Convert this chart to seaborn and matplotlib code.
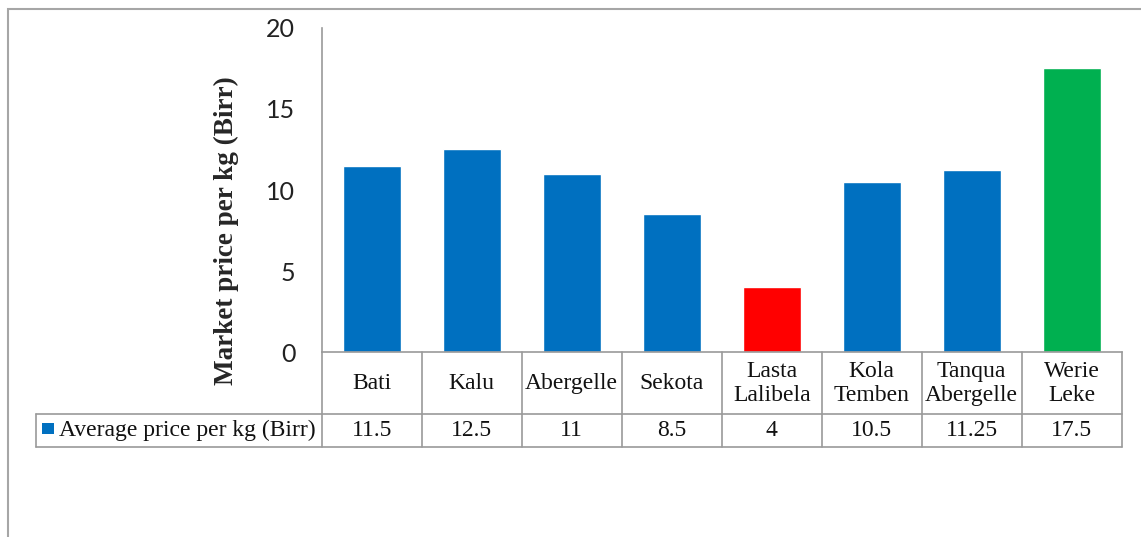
import matplotlib
matplotlib.use("Agg")
import matplotlib.pyplot as plt
from matplotlib.patches import Rectangle
import seaborn as sns

sites = ["Bati", "Kalu", "Abergelle", "Sekota", "Lasta\nLalibela",
         "Kola\nTemben", "Tanqua\nAbergelle", "Werie\nLeke"]
prices = [11.5, 12.5, 11, 8.5, 4, 10.5, 11.25, 17.5]
bar_colors = ["#0070C0", "#0070C0", "#0070C0", "#0070C0", "#FF0000",
              "#0070C0", "#0070C0", "#00B050"]
series_name = "Average price per kg (Birr)"
y_ticks = [0, 5, 10, 15, 20]

sns.set_style("white")
plt.rcParams["font.family"] = ["Liberation Serif", "DejaVu Serif"]

W, H = 1141, 537
fig = plt.figure(figsize=(W / 100, H / 100), dpi=100)
ax_left, ax_right, ax_top, ax_bottom = 321.7, 1121.7, 27.7, 352.3
ax = fig.add_axes([ax_left / W, 1 - ax_bottom / H,
                   (ax_right - ax_left) / W, (ax_bottom - ax_top) / H])

sns.barplot(x=sites, y=prices, hue=sites, palette=bar_colors, width=0.58,
            saturation=1, legend=False, ax=ax)

grey = "#9A9A9A"
ax.set_xlim(-0.5, len(sites) - 0.5)
ax.set_ylim(0, 20)
ax.set_yticks(y_ticks)
ax.set_yticklabels([str(t) for t in y_ticks], fontfamily="Lato", fontsize=18)
ax.tick_params(axis="y", length=0, pad=19, colors="#222222")
ax.set_xticks([])
for s in ["top", "right"]:
    ax.spines[s].set_visible(False)
for s in ["left", "bottom"]:
    ax.spines[s].set_color(grey)
    ax.spines[s].set_linewidth(1.2)

ax.set_xlabel("")
ax.set_ylabel("Market price per kg (Birr)", fontsize=19.5, fontweight="bold")
ax.yaxis.label.set_verticalalignment("center")
ax.yaxis.set_label_coords((226 - ax_left) / (ax_right - ax_left),
                          (ax_bottom - 231) / (ax_bottom - ax_top))

# data table below the plot
trans = ax.get_xaxis_transform()
ph = ax_bottom - ax_top
row1 = (ax_bottom - 414) / ph
row2 = (ax_bottom - 447) / ph
leg_x = (35.7 - ax_left) / 100 - 0.5
n = len(sites)
line_kw = dict(color=grey, lw=1.2, transform=trans, clip_on=False)
ax.plot([leg_x, n - 0.5], [row1, row1], **line_kw)
ax.plot([leg_x, n - 0.5], [row2, row2], **line_kw)
ax.plot([leg_x, leg_x], [row1, row2], **line_kw)
for i in range(n + 1):
    ax.plot([i - 0.5, i - 0.5], [0, row2], **line_kw)

for i, (site, val) in enumerate(zip(sites, prices)):
    ax.text(i, row1 / 2, site, ha="center", va="center", fontsize=17,
            linespacing=1.2, transform=trans, color="#111111")
    ax.text(i, (row1 + row2) / 2, f"{val:g}", ha="center", va="center",
            fontsize=17, transform=trans, color="#111111")

ax.add_patch(Rectangle(((42 - ax_left) / 100 - 0.5, (ax_bottom - 434) / ph),
                       0.12, 11 / ph, transform=trans, clip_on=False,
                       color=bar_colors[0], lw=0))
ax.text((59 - ax_left) / 100 - 0.5, (row1 + row2) / 2, series_name,
        ha="left", va="center", fontsize=17, transform=trans, color="#111111")

# chart area border (left and top edges visible)
fig.patches.append(Rectangle((8 / W, -0.1), 1.2, 1.1 - 9 / H,
                             transform=fig.transFigure, fill=False,
                             edgecolor="#A6A6A6", lw=1.5))

fig.savefig("out.png", dpi=100)
